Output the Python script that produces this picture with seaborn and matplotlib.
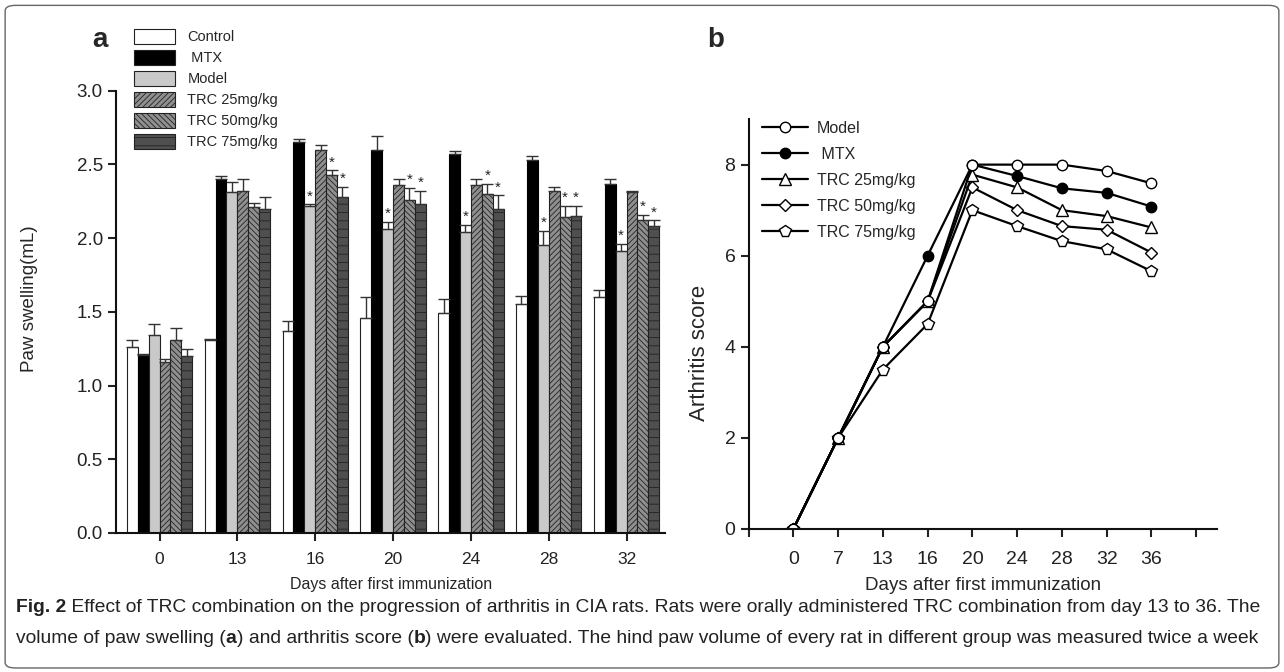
import numpy as np
import pandas as pd
import seaborn as sns
import matplotlib.pyplot as plt
from matplotlib.patches import Patch, FancyBboxPatch
from matplotlib.lines import Line2D

# ---------------- data: panel a (paw swelling, mean and SEM) ----------------
days_a = ['0', '13', '16', '20', '24', '28', '32']
groups_a = ['Control', 'MTX', 'Model', 'TRC 25mg/kg', 'TRC 50mg/kg', 'TRC 75mg/kg']

control = [1.26, 1.31, 1.37, 1.46, 1.49, 1.55, 1.60]
mtx = [1.21, 2.40, 2.65, 2.60, 2.57, 2.53, 2.37]
model = [1.34, 2.31, 2.22, 2.06, 2.04, 1.95, 1.91]
trc25 = [1.16, 2.32, 2.60, 2.36, 2.36, 2.32, 2.31]
trc50 = [1.31, 2.21, 2.43, 2.26, 2.30, 2.14, 2.12]
trc75 = [1.20, 2.20, 2.28, 2.23, 2.20, 2.15, 2.08]

control_err = [0.05, 0.005, 0.07, 0.14, 0.10, 0.06, 0.05]
mtx_err = [0.005, 0.02, 0.02, 0.09, 0.02, 0.03, 0.03]
model_err = [0.08, 0.07, 0.01, 0.05, 0.05, 0.10, 0.05]
trc25_err = [0.02, 0.08, 0.03, 0.04, 0.04, 0.03, 0.01]
trc50_err = [0.08, 0.03, 0.03, 0.08, 0.07, 0.08, 0.04]
trc75_err = [0.05, 0.08, 0.07, 0.09, 0.09, 0.07, 0.04]

star_groups = ['Model', 'TRC 50mg/kg', 'TRC 75mg/kg']
star_days = ['16', '20', '24', '28', '32']

# ---------------- data: panel b (arthritis score) ----------------
days_b = ['0', '7', '13', '16', '20', '24', '28', '32', '36']
score_model = [0, 2, 4, 5, 8, 8, 8, 7.86, 7.59]
score_mtx = [0, 2, 4, 6, 8, 7.75, 7.48, 7.38, 7.08]
score_trc25 = [0, 2, 4, 5, 7.78, 7.50, 7.00, 6.87, 6.62]
score_trc50 = [0, 2, 4, 5, 7.50, 7.00, 6.65, 6.57, 6.07]
score_trc75 = [0, 2, 3.5, 4.5, 7.00, 6.65, 6.32, 6.14, 5.66]

# ---------------- style ----------------
sns.set_style('ticks')
plt.rcParams['font.family'] = ['Liberation Sans', 'DejaVu Sans']
plt.rcParams['hatch.linewidth'] = 0.6

fig = plt.figure(figsize=(12.84, 6.72), dpi=100)

# ================= panel a =================
ax1 = fig.add_axes([0.0903, 0.207, 0.428, 0.658])

means = [control, mtx, model, trc25, trc50, trc75]
errs = [control_err, mtx_err, model_err, trc25_err, trc50_err, trc75_err]
df_a = pd.DataFrame({
    'day': np.tile(days_a, len(groups_a)),
    'group': np.repeat(groups_a, len(days_a)),
    'value': np.concatenate(means),
})

faces = ['white', 'black', '#c9c9c9', '#8f8f8f', '#8f8f8f', '#4f4f4f']
hatches = ['', '', '', '//////', '\\\\\\\\\\\\', '--']

sns.barplot(data=df_a, x='day', y='value', hue='group', order=days_a,
            hue_order=groups_a, errorbar=None, width=0.84, gap=0,
            ax=ax1, legend=False)

for cont, fc, h, err, grp in zip(ax1.containers, faces, hatches, errs, groups_a):
    xs, tops = [], []
    for bar, day in zip(cont, days_a):
        bar.set_facecolor(fc)
        bar.set_edgecolor('#222222' if fc != 'black' else 'black')
        bar.set_linewidth(0.8)
        bar.set_hatch(h)
        xs.append(bar.get_x() + bar.get_width() / 2)
        tops.append(bar.get_height())
    xs = np.array(xs)
    tops = np.array(tops)
    e = np.array(err)
    ax1.errorbar(xs, tops, yerr=[np.zeros_like(e), e], fmt='none',
                 ecolor='#333333', elinewidth=1.0, capsize=4, capthick=1.0)
    if grp in star_groups:
        for xi, ti, ei, day in zip(xs, tops, e, days_a):
            if day in star_days:
                ax1.text(xi, ti + ei + 0.005, '*', ha='center', va='bottom',
                         fontsize=11, color='#222222')

ax1.set_xlim(-0.56, 6.5)
ax1.set_ylim(0, 3.0)
ax1.set_yticks(np.arange(0, 3.01, 0.5))
ax1.set_yticklabels([f'{v:.1f}' for v in np.arange(0, 3.01, 0.5)])
ax1.set_xlabel('Days after first immunization', fontsize=11.5, labelpad=7)
ax1.set_ylabel('Paw swelling(mL)', fontsize=13.5)
ax1.yaxis.set_label_coords(-0.142, 0.53)
ax1.tick_params(axis='both', direction='out', length=6, width=1.5,
                colors='#222222')
ax1.tick_params(axis='y', labelsize=13.5)
ax1.tick_params(axis='x', labelsize=12.5, pad=8)
sns.despine(ax=ax1)
for s in ['left', 'bottom']:
    ax1.spines[s].set_linewidth(1.5)
    ax1.spines[s].set_color('#111111')

leg_handles = [Patch(facecolor=fc, edgecolor='#222222', hatch=h, linewidth=0.8)
               for fc, h in zip(faces, hatches)]
leg_labels = ['Control', ' MTX', 'Model', 'TRC 25mg/kg', 'TRC 50mg/kg', 'TRC 75mg/kg']
fig.legend(leg_handles, leg_labels, loc='upper left',
           bbox_to_anchor=(0.1044, 0.957), frameon=False, fontsize=10.5,
           handlelength=2.8, handleheight=1.2, labelspacing=0.38,
           handletextpad=0.85, borderpad=0, borderaxespad=0)

# ================= panel b =================
ax2 = fig.add_axes([0.583, 0.2128, 0.365, 0.61])
pos_b = np.arange(len(days_b))
series_b = [
    ('Model', score_model, 'o', 'white', 7.5),
    ('MTX', score_mtx, 'o', 'black', 7.5),
    ('TRC 25mg/kg', score_trc25, '^', 'white', 8.5),
    ('TRC 50mg/kg', score_trc50, 'D', 'white', 6.5),
    ('TRC 75mg/kg', score_trc75, 'p', 'white', 8.5),
]
for name, vals, mk, mfc, ms in series_b[::-1]:
    sns.lineplot(x=pos_b, y=vals, ax=ax2, color='black', linewidth=1.6,
                 marker=mk, markersize=ms, markerfacecolor=mfc,
                 markeredgecolor='black', markeredgewidth=1.0, legend=False)

ax2.set_xlim(-1, 9.47)
ax2.set_ylim(0, 9.0)
ax2.set_xticks(np.arange(-1, 10))
ax2.set_xticklabels([''] + days_b + [''])
ax2.set_yticks([0, 2, 4, 6, 8])
ax2.set_xlabel('Days after first immunization', fontsize=13.5, labelpad=6)
ax2.set_ylabel('Arthritis score', fontsize=16)
ax2.yaxis.set_label_coords(-0.083, 0.43)
ax2.tick_params(axis='both', direction='out', length=6, width=1.5,
                labelsize=14, colors='#222222')
ax2.tick_params(axis='x', pad=10)
sns.despine(ax=ax2)
for s in ['left', 'bottom']:
    ax2.spines[s].set_linewidth(1.5)
    ax2.spines[s].set_color('#111111')

leg_b = [Line2D([0], [0], color='black', linewidth=1.6, marker=mk,
                markersize=ms, markerfacecolor=mfc, markeredgecolor='black')
         for name, vals, mk, mfc, ms in series_b]
fig.legend(leg_b, ['Model', ' MTX', 'TRC 25mg/kg', 'TRC 50mg/kg', 'TRC 75mg/kg'],
           loc='upper left', bbox_to_anchor=(0.5935, 0.82), frameon=False,
           fontsize=11.5, handlelength=2.9, handletextpad=0.55,
           labelspacing=0.69, borderpad=0, borderaxespad=0)

# panel letters
fig.text(0.072, 0.94, 'a', fontsize=20, fontweight='bold', va='center')
fig.text(0.551, 0.94, 'b', fontsize=20, fontweight='bold', va='center')

# ================= caption =================
cap_family = ['Liberation Sans Narrow', 'Liberation Sans', 'DejaVu Sans']
line1 = [('Fig. 2', True),
         (' Effect of TRC combination on the progression of arthritis in CIA rats. '
          'Rats were orally administered TRC combination from day 13 to 36. The', False)]
line2 = [('volume of paw swelling (', False), ('a', True),
         (') and arthritis score (', False), ('b', True),
         (') were evaluated. The hind paw volume of every rat in different group '
          'was measured twice a week', False)]

renderer = fig.canvas.get_renderer()


def draw_line(parts, x0, y, size):
    x = x0
    for txt, bold in parts:
        t = fig.text(x, y, txt, fontsize=size, family=cap_family,
                     fontweight='bold' if bold else 'normal',
                     color='#222222', va='baseline')
        bb = t.get_window_extent(renderer=renderer)
        x += bb.width / fig.bbox.width
    return x


# fit the first caption line to the width it has in the print
probe = fig.text(0, 0, ''.join(p for p, _ in line1), fontsize=13, family=cap_family)
w = probe.get_window_extent(renderer=renderer).width
probe.remove()
cap_size = 13 * 1238 / w
cap_size = min(cap_size, 15)

draw_line(line1, 0.0125, 1 - 612 / 672, cap_size)
draw_line(line2, 0.0125, 1 - 643 / 672, cap_size)

# rounded frame around the whole figure
frame = FancyBboxPatch((0.004, 0.006), 0.992, 0.986,
                       boxstyle='round,pad=0,rounding_size=0.008',
                       transform=fig.transFigure, fill=False,
                       edgecolor='#666666', linewidth=1.0)
fig.patches.append(frame)

fig.savefig('out.png', dpi=100)
